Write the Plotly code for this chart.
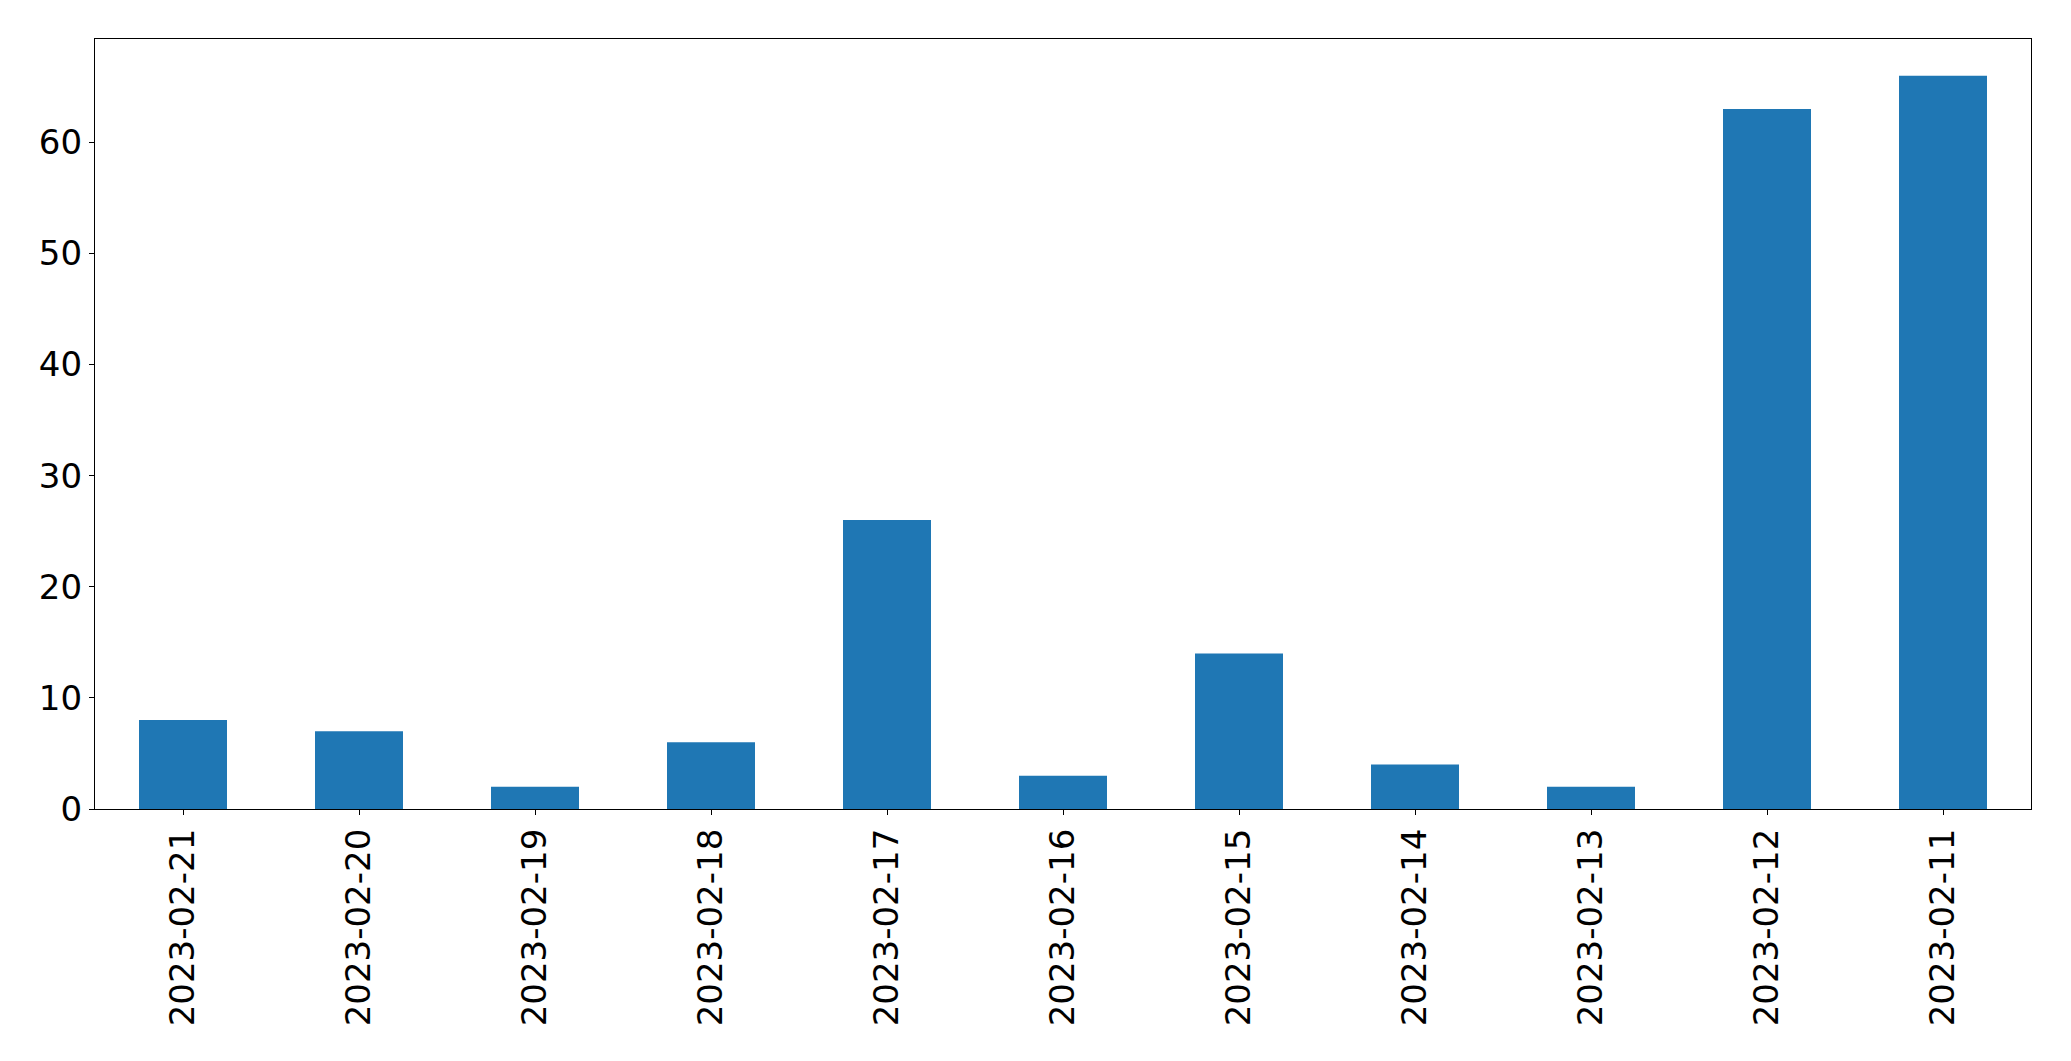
import plotly.graph_objects as go

dates = ["2023-02-21", "2023-02-20", "2023-02-19", "2023-02-18", "2023-02-17",
         "2023-02-16", "2023-02-15", "2023-02-14", "2023-02-13", "2023-02-12",
         "2023-02-11"]
counts = [8, 7, 2, 6, 26, 3, 14, 4, 2, 63, 66]
y_ticks = [0, 10, 20, 30, 40, 50, 60]

fig = go.Figure(go.Bar(x=dates, y=counts, width=0.5, marker_color="#1f77b4",
                       marker_line_width=0))

fig.update_layout(
    width=2055, height=1045,
    margin=dict(l=87, r=32, t=31, b=244, pad=0),
    plot_bgcolor="white", paper_bgcolor="white",
    font=dict(family="DejaVu Sans", size=34, color="black"),
    showlegend=False,
)
fig.update_xaxes(type="category", range=[-0.5, len(dates) - 0.5],
                 tickangle=-90, ticks="outside", ticklen=5, tickwidth=1.3,
                 tickcolor="black", showline=True, linecolor="black",
                 linewidth=1.3, mirror=True, showgrid=False,
                 tickfont=dict(size=34))
fig.update_yaxes(range=[0, 69.3], tickvals=y_ticks, ticks="outside", ticklen=5,
                 tickwidth=1.3, tickcolor="black", showline=True,
                 linecolor="black", linewidth=1.3, mirror=True, showgrid=False,
                 zeroline=False, tickfont=dict(size=34))

fig.write_html("out.html")
